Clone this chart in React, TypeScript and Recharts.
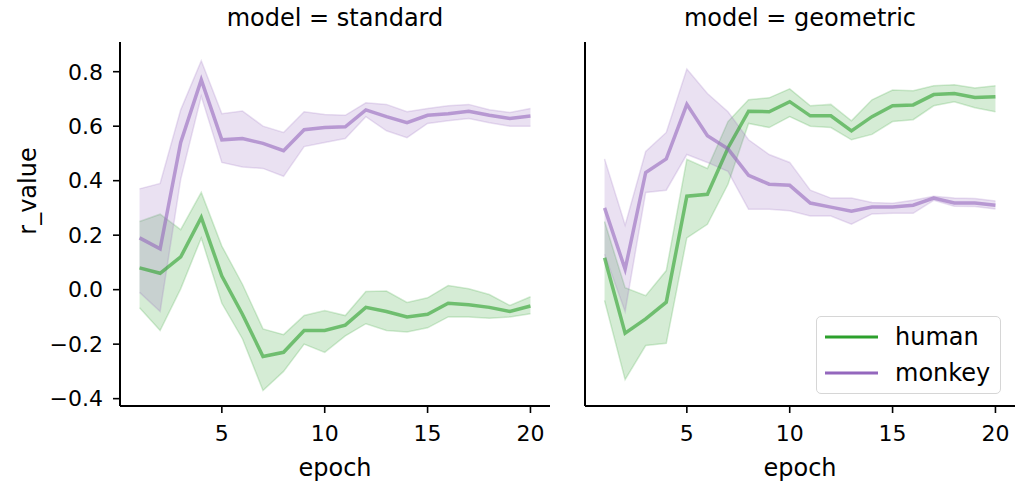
import React from 'react';
import { ComposedChart, Line, Area, XAxis, YAxis } from 'recharts';

const epochs = [1, 2, 3, 4, 5, 6, 7, 8, 9, 10, 11, 12, 13, 14, 15, 16, 17, 18, 19, 20];
const xTicks = [5, 10, 15, 20];
const yTicks = [-0.4, -0.2, 0.0, 0.2, 0.4, 0.6, 0.8];

// model = standard
const stdHuman = [0.08, 0.06, 0.12, 0.265, 0.05, -0.09, -0.245, -0.23, -0.15, -0.15, -0.13, -0.065, -0.08, -0.1, -0.09, -0.05, -0.055, -0.065, -0.08, -0.06];
const stdHumanLo = [-0.066, -0.15, 0.003, 0.19, -0.05, -0.18, -0.37, -0.3, -0.2, -0.23, -0.17, -0.125, -0.15, -0.155, -0.14, -0.1, -0.1, -0.105, -0.1, -0.088];
const stdHumanHi = [0.25, 0.277, 0.22, 0.357, 0.16, 0.02, -0.144, -0.165, -0.095, -0.077, -0.095, -0.007, -0.005, -0.047, -0.03, 0.015, 0.003, -0.018, -0.058, -0.026];
const stdMonkey = [0.19, 0.15, 0.54, 0.77, 0.55, 0.555, 0.537, 0.51, 0.587, 0.595, 0.598, 0.66, 0.635, 0.613, 0.64, 0.646, 0.655, 0.64, 0.628, 0.637];
const stdMonkeyLo = [-0.01, -0.08, 0.405, 0.71, 0.467, 0.45, 0.445, 0.416, 0.525, 0.54, 0.555, 0.635, 0.583, 0.558, 0.61, 0.62, 0.628, 0.613, 0.6, 0.6];
const stdMonkeyHi = [0.37, 0.39, 0.66, 0.84, 0.646, 0.656, 0.6, 0.577, 0.653, 0.643, 0.64, 0.686, 0.68, 0.653, 0.665, 0.675, 0.68, 0.66, 0.65, 0.665];

// model = geometric
const geoHuman = [0.117, -0.16, -0.107, -0.046, 0.343, 0.35, 0.52, 0.655, 0.653, 0.69, 0.638, 0.638, 0.583, 0.635, 0.675, 0.678, 0.716, 0.72, 0.705, 0.708];
const geoHumanLo = [-0.04, -0.33, -0.205, -0.197, 0.19, 0.24, 0.387, 0.61, 0.595, 0.635, 0.6, 0.595, 0.55, 0.57, 0.617, 0.624, 0.675, 0.69, 0.668, 0.653];
const geoHumanHi = [0.25, 0.007, -0.022, 0.07, 0.478, 0.445, 0.617, 0.697, 0.704, 0.737, 0.675, 0.68, 0.62, 0.697, 0.733, 0.73, 0.748, 0.752, 0.74, 0.748];
const geoMonkey = [0.3, 0.075, 0.43, 0.48, 0.68, 0.565, 0.517, 0.42, 0.387, 0.383, 0.318, 0.303, 0.288, 0.303, 0.303, 0.31, 0.336, 0.318, 0.318, 0.31];
const geoMonkeyLo = [0.13, -0.08, 0.357, 0.365, 0.496, 0.467, 0.434, 0.295, 0.295, 0.29, 0.27, 0.27, 0.24, 0.278, 0.28, 0.28, 0.328, 0.306, 0.305, 0.296];
const geoMonkeyHi = [0.48, 0.237, 0.507, 0.577, 0.81, 0.72, 0.653, 0.55, 0.496, 0.467, 0.365, 0.336, 0.336, 0.32, 0.317, 0.328, 0.343, 0.336, 0.335, 0.325];

const GREEN = '#2ca02c';
const PURPLE = '#9467bd';
const FONT = 'DejaVu Sans, sans-serif';

const fmt = (v: number) => v.toFixed(1).replace('-', '\u2212');

const buildRows = (h: number[], hLo: number[], hHi: number[], m: number[], mLo: number[], mHi: number[]) =>
  epochs.map((epoch, i) => ({
    epoch,
    human: h[i],
    humanBand: [hLo[i], hHi[i]],
    monkey: m[i],
    monkeyBand: [mLo[i], mHi[i]],
  }));

const stdRows = buildRows(stdHuman, stdHumanLo, stdHumanHi, stdMonkey, stdMonkeyLo, stdMonkeyHi);
const geoRows = buildRows(geoHuman, geoHumanLo, geoHumanHi, geoMonkey, geoMonkeyLo, geoMonkeyHi);

const tickStyle = { fill: '#000', fontSize: 22, fontFamily: FONT };
const axisLine = { stroke: '#000', strokeWidth: 2 };
const tickLine = { stroke: '#000', strokeWidth: 1.6 };

interface PanelProps {
  rows: ReturnType<typeof buildRows>;
  width: number;
  yAxisWidth: number;
  showYLabels: boolean;
}

const Panel: React.FC<PanelProps> = ({ rows, width, yAxisWidth, showYLabels }) => (
  <ComposedChart width={width} height={487} data={rows} margin={{ top: 42, right: width - yAxisWidth - 430, bottom: 0, left: 0 }}>
    <XAxis
      dataKey="epoch"
      type="number"
      domain={[0.05, 20.95]}
      ticks={xTicks}
      allowDataOverflow
      height={81}
      tickSize={7}
      tickMargin={12}
      tick={tickStyle}
      axisLine={axisLine}
      tickLine={tickLine}
      label={{ value: 'epoch', position: 'insideBottom', offset: 11, fill: '#000', fontSize: 24, fontFamily: FONT }}
    />
    <YAxis
      type="number"
      domain={[-0.427, 0.909]}
      ticks={yTicks}
      allowDataOverflow
      width={yAxisWidth}
      tickSize={7}
      tickMargin={10}
      tick={showYLabels ? tickStyle : false}
      tickFormatter={fmt}
      axisLine={axisLine}
      tickLine={tickLine}
      label={
        showYLabels
          ? {
              content: (props: any) => {
                const vb = props.viewBox || { x: 0, y: 42, height: 364 };
                const cx = vb.x + 28;
                const cy = vb.y + vb.height / 2 - 33;
                return (
                  <text x={cx} y={cy} transform={`rotate(-90 ${cx} ${cy})`} textAnchor="middle" dominantBaseline="central" fill="#000" fontSize={24} fontFamily={FONT}>
                    r_value
                  </text>
                );
              },
            }
          : undefined
      }
    />
    <Area type="linear" dataKey="humanBand" fill={GREEN} fillOpacity={0.2} stroke={GREEN} strokeOpacity={0.2} strokeWidth={1.5} dot={false} activeDot={false} isAnimationActive={false} />
    <Line type="linear" dataKey="human" stroke={GREEN} strokeOpacity={0.6} strokeWidth={3.5} dot={false} activeDot={false} isAnimationActive={false} />
    <Area type="linear" dataKey="monkeyBand" fill={PURPLE} fillOpacity={0.2} stroke={PURPLE} strokeOpacity={0.2} strokeWidth={1.5} dot={false} activeDot={false} isAnimationActive={false} />
    <Line type="linear" dataKey="monkey" stroke={PURPLE} strokeOpacity={0.6} strokeWidth={3.5} dot={false} activeDot={false} isAnimationActive={false} />
  </ComposedChart>
);

const titleStyle: React.CSSProperties = {
  position: 'absolute',
  top: 3,
  width: 430,
  textAlign: 'center',
  fontFamily: FONT,
  fontSize: 24,
  color: '#000',
  lineHeight: '30px',
};

const legendItems = [
  { name: 'human', color: GREEN },
  { name: 'monkey', color: PURPLE },
];

const App: React.FC = () => (
  <div style={{ position: 'absolute', left: 0, top: 0, width: 1015, height: 487, background: '#fff', overflow: 'hidden' }}>
    <div style={{ position: 'absolute', left: 0, top: 0 }}>
      <Panel rows={stdRows} width={560} yAxisWidth={120} showYLabels />
    </div>
    <div style={{ position: 'absolute', left: 560, top: 0 }}>
      <Panel rows={geoRows} width={455} yAxisWidth={25} showYLabels={false} />
    </div>
    <div style={{ ...titleStyle, left: 120 }}>model = standard</div>
    <div style={{ ...titleStyle, left: 585 }}>model = geometric</div>
    <div
      style={{
        position: 'absolute',
        left: 816,
        top: 316,
        width: 183,
        height: 76,
        border: '1.5px solid #d6d6d6',
        borderRadius: 5,
        background: 'rgba(255,255,255,0.8)',
        fontFamily: FONT,
        fontSize: 24,
        color: '#000',
      }}
    >
      {legendItems.map((item, i) => (
        <div key={item.name} style={{ position: 'absolute', left: 0, top: 3 + i * 36, height: 34, display: 'flex', alignItems: 'center' }}>
          <svg width={70} height={34} style={{ display: 'block' }}>
            <line x1={8} x2={61} y1={17} y2={17} stroke={item.color} strokeWidth={3} />
          </svg>
          <span style={{ marginLeft: 8 }}>{item.name}</span>
        </div>
      ))}
    </div>
  </div>
);

export default App;
